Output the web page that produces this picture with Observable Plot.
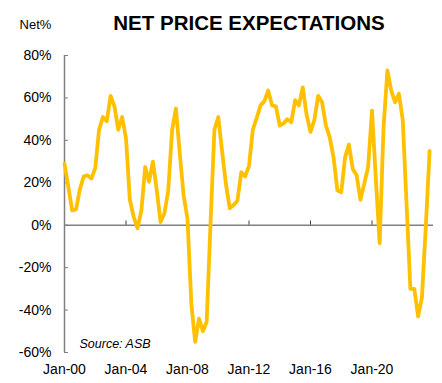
<!DOCTYPE html>
<html>
<head>
<meta charset="utf-8">
<script src="https://cdn.jsdelivr.net/npm/d3@7"></script>
<script src="https://cdn.jsdelivr.net/npm/@observablehq/plot@0.6"></script>
<style>
  html, body { margin: 0; padding: 0; background: #fff; }
  #chart svg { display: block; font-family: "Liberation Sans", Arial, sans-serif; }
</style>
</head>
<body>
<div id="chart"></div>
<script>
// Quarterly net price expectations, 2000Q1 .. 2023Q4 (Net %)
const startYear = 2000;
const netPct = [
  29, 18, 7, 7.5, 17, 23, 23.5, 22, 27, 45, 51, 49, 61, 56, 45, 51,
  41, 12, 4, -1.5, 7, 27.5, 20.5, 30, 16.5, 1.5, 5.5, 16.5, 45, 55, 34, 14,
  3, -37, -55, -44, -50, -45.5, 1, 45, 51, 35, 19.5, 8, 9.5, 11.5, 25, 23,
  28, 45, 50.5, 56.5, 58.5, 63.5, 56.5, 56, 47, 48, 50, 48.5, 59, 56.5, 65, 52,
  44, 49.5, 61, 58, 47, 41.5, 32, 16.5, 15.5, 32, 38, 26.5, 23.5, 12, 19.5, 27.5,
  54, 22, -8.5, 46, 73, 63.5, 58, 62, 49.5, 10, -30, -30, -43, -34, -1, 35
];
const yTicks = [-60, -40, -20, 0, 20, 40, 60, 80];
const xTickYears = [2000, 2004, 2008, 2012, 2016, 2020];
const titleText = "NET PRICE EXPECTATIONS";
const unitText = "Net%";
const sourceText = "Source: ASB";

const data = netPct.map((v, i) => ({
  date: new Date(Date.UTC(startYear + Math.floor(i / 4), (i % 4) * 3, 1)),
  value: v
}));
const xTicks = xTickYears.map(y => new Date(Date.UTC(y, 0, 1)));
const xDomain = [new Date(Date.UTC(2000, 0, 1)), new Date(Date.UTC(2024, 0, 1))];

const axisColor = "#808080";

const chart = Plot.plot({
  width: 442,
  height: 383,
  marginLeft: 64,
  marginRight: 9,
  marginTop: 55,
  marginBottom: 31,
  style: { fontSize: "14px", fontFamily: "'Liberation Sans', Arial, sans-serif", color: "#000", background: "#fff", overflow: "visible" },
  x: { type: "utc", domain: xDomain },
  y: { domain: [-60, 80] },
  marks: [
    Plot.axisX({
      ticks: xTicks,
      tickFormat: d3.utcFormat("Jan-%y"),
      tickSize: 0,
      tickPadding: 12,
      label: null,
      fill: "#000",
      fontSize: 14
    }),
    Plot.axisY({
      ticks: yTicks,
      tickFormat: d => d + "%",
      tickSize: -4,
      tickPadding: 17,
      label: null,
      stroke: axisColor,
      fill: "#000",
      fontSize: 14
    }),
    Plot.ruleX([0], { x: () => xDomain[0], stroke: axisColor, strokeWidth: 1.5 }),
    Plot.ruleY([0], { stroke: axisColor, strokeWidth: 1.5 }),
    Plot.ruleX(xTicks.slice(1), { x: d => d, y1: 0, y2: 2, stroke: "#404040", strokeWidth: 1 }),
    Plot.line(data, { x: "date", y: "value", stroke: "#FFC000", strokeWidth: 3.8, strokeLinejoin: "round" }),
    Plot.text([titleText], {
      text: d => d, frameAnchor: "top", lineAnchor: "middle", dy: -32,
      fontSize: 20.5, fontWeight: "bold", fill: "#000"
    }),
    Plot.text([unitText], {
      text: d => d, frameAnchor: "top-left", lineAnchor: "middle", dx: -29, dy: -31,
      textAnchor: "middle", fontSize: 13, fill: "#000"
    }),
    Plot.text([sourceText], {
      text: d => d, frameAnchor: "bottom-left", lineAnchor: "middle", dx: 15, dy: -9,
      textAnchor: "start", fontSize: 12.5, fontStyle: "italic", fill: "#000"
    })
  ]
});
document.getElementById("chart").appendChild(chart);
</script>
</body>
</html>
